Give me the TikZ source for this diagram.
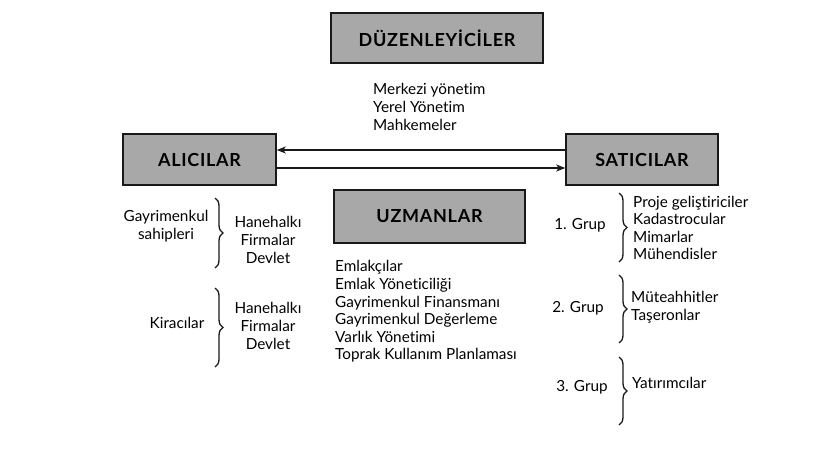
\documentclass[tikz,border=0pt]{standalone}
\usepackage{fontspec}
\setmainfont{Lato}[Ligatures=NoCommon]
\usetikzlibrary{arrows.meta,decorations.pathreplacing}
\definecolor{boxgray}{RGB}{168,168,168}
\definecolor{edge}{RGB}{25,25,25}
\begin{document}
\begin{tikzpicture}[x=1pt,y=-1pt,
  box/.style={draw=edge, line width=1.6pt, fill=boxgray, inner sep=0pt,
    font=\bfseries\fontsize{18}{21}\selectfont\addfontfeatures{LetterSpace=4}},
  txt/.style={font=\fontsize{15.3}{17.6}\selectfont, inner sep=0pt},
  arr/.style={line width=1.3pt, draw=edge, -{Stealth[length=9pt,width=7pt,inset=2.5pt]}},
  brc/.style={line width=1.3pt, draw=edge, decorate, decoration={brace, amplitude=8pt}}]
\useasboundingbox (0,0) rectangle (829,456);
% boxes
\node[box, minimum width=212pt, minimum height=50pt] (duz) at (437,38) {DÜZENLEYİCİLER};
\node[box, minimum width=153pt, minimum height=51pt] (ali) at (199.5,159.5) {ALICILAR};
\node[box, minimum width=152pt, minimum height=51pt] (sat) at (642,159.5) {SATICILAR};
\node[box, minimum width=191pt, minimum height=53pt] (uzm) at (429.5,216.5) {UZMANLAR};
% arrows
\draw[arr] ([yshift=9.5pt]sat.west) -- ([yshift=9.5pt]ali.east);
\draw[arr] ([yshift=-8.5pt]ali.east) -- ([yshift=-8.5pt]sat.west);
% regulator list
\node[txt, anchor=west, align=left] (reg) at (373,107) {Merkezi yönetim\\Yerel Yönetim\\Mahkemeler};
% experts list
\node[txt, anchor=west, align=left] (exp) at (335,311.5) {Emlakçılar\\Emlak Yöneticiliği\\Gayrimenkul Finansmanı\\Gayrimenkul Değerleme\\Varlık Yönetimi\\Toprak Kullanım Planlaması};
% left side
\node[txt, align=center] (own) at (166,226) {Gayrimenkul\\sahipleri};
\node[txt, align=center] (ten) at (177,323) {Kiracılar};
\node[txt, align=center] (ownl) at (268,240) {Hanehalkı\\Firmalar\\Devlet};
\node[txt, align=center] (tenl) at (268,326) {Hanehalkı\\Firmalar\\Devlet};
\coordinate (lb1t) at (215,198);
\coordinate (lb1b) at (215,268);
\coordinate (lb2t) at (215,288);
\coordinate (lb2b) at (215,367);
\draw[brc] (lb1t) -- (lb1b);
\draw[brc] (lb2t) -- (lb2b);
% right side
\node[txt] (g1) at (580,225) {1. Grup};
\node[txt] (g2) at (578,308) {2. Grup};
\node[txt] (g3) at (582,387) {3. Grup};
\node[txt, anchor=west, align=left] (g1l) at (633,228) {Proje geliştiriciler\\Kadastrocular\\Mimarlar\\Mühendisler};
\node[txt, anchor=west, align=left] (g2l) at (631,307.5) {Müteahhitler\\Taşeronlar};
\node[txt, anchor=west, align=left] (g3l) at (632,383) {Yatırımcılar};
\coordinate (rb1t) at (619,193);
\coordinate (rb1b) at (619,262);
\coordinate (rb2t) at (619,275);
\coordinate (rb2b) at (619,343);
\coordinate (rb3t) at (619,357);
\coordinate (rb3b) at (619,425);
\draw[brc] (rb1t) -- (rb1b);
\draw[brc] (rb2t) -- (rb2b);
\draw[brc] (rb3t) -- (rb3b);
\end{tikzpicture}
\end{document}
